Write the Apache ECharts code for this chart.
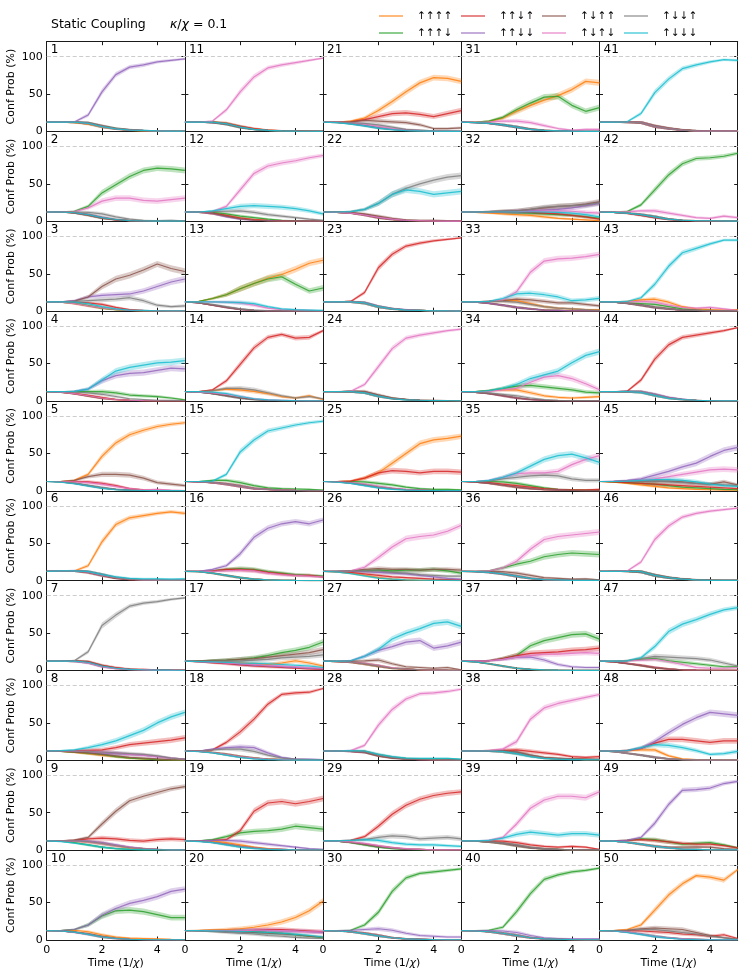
<!DOCTYPE html>
<html><head><meta charset="utf-8">
<script src="https://cdn.jsdelivr.net/npm/echarts@6/dist/echarts.min.js"></script>
<style>html,body{margin:0;padding:0;background:#fff}#c{width:747px;height:978px}</style>
</head><body><div id="c"></div>
<script>
// ---------------- data ----------------
const times = [0,0.5,1,1.5,2,2.5,3,3.5,4,4.5,5];
const stateNames = ['↑↑↑↑','↑↑↑↓','↑↑↓↑','↑↑↓↓','↑↓↑↑','↑↓↑↓','↑↓↓↑','↑↓↓↓'];
const stateColors = ['#ff7f0e','#2ca02c','#d62728','#9467bd','#8c564b','#e377c2','#7f7f7f','#17becf'];
const xTicks = [0,2,4];
const yTicks = [0,50,100];
// each panel: rows in stateNames order, values (%) at `times`
const panel1=[[12.5,12.5,12,10,6,3.5,1.5,1,0.5,0.3,0.2],[12.5,12.5,12.5,11,7,4,2,1,0.6,0.4,0.3],[12.5,12.5,12.5,11,7,3.5,2,1.2,0.8,0.6,0.5],[12.5,12.5,12.8,22,53,76,86,89,93,95,97],[12.5,12.5,12.5,11.5,7.5,4,2.5,1.5,1,0.6,0.4],[12.5,12.5,12.5,11,6.5,3.5,2,1.2,0.8,0.5,0.4],[12.5,12.5,12.5,11.5,7,4,2.5,1.5,1,0.6,0.4],[12.5,12.5,12.5,11,6.5,3.5,2,1.5,1,0.6,0.5]];
const panel2=[[12.5,12.5,11.5,9,5,2.5,1,0.5,0.3,0.2,0.2],[12.5,12.5,13.5,20,38,49,60,68,71,70,68],[12.5,12.5,11.5,9,5,2,1,0.5,0.3,0.2,0.2],[12.5,12.5,11.5,9,5.5,2.5,1,0.5,0.3,0.2,0.2],[12.5,12.5,11,8,4,2,1,0.5,0.3,0.2,0.1],[12.5,12.5,13,18,27,31,31,28,27,29,31],[12.5,12.5,12.5,12,10,6,3,1.5,1,1.5,0.8],[12.5,12.5,11.5,9,5,2.5,1,0.5,0.3,0.2,0.2]];
const panel3=[[12.5,12,10,7,4,2,1,0.5,0.3,0.2,0.2],[12.5,12,10.5,7.5,4,2,1,0.5,0.3,0.2,0.2],[12.5,12.5,12,11,9,5,2,1,0.5,0.3,0.3],[12.5,12.5,14,19,21,22,23,27,33,39,43],[12.5,12.5,13.5,19,33,43,48,55,63,57,53],[12.5,12,10,7,4.5,2.5,1,0.5,0.3,0.2,0.2],[12.5,12.5,13,14,15,16,18,14,8,6,7],[12.5,12.5,12,10,6,3,1.5,1,0.5,0.3,0.3]];
const panel4=[[12.5,12,10,7,4,2,1,0.5,0.3,0.2,0.2],[12.5,12.5,12.5,12.5,12.5,11,8,7,6,4,1.5],[12.5,12,10,7.5,4.5,2,1,0.5,0.3,0.2,0.2],[12.5,12.5,13,16,27,34,37,38,41,44,43],[12.5,11.5,9.5,6.5,3.5,2,1,0.5,0.3,0.2,0.2],[12.5,12,10,7,4,2,1,0.5,0.3,0.2,0.2],[12.5,12.5,12,11,9,6,3,2,1,0.8,0.5],[12.5,12.5,13,16,28,40,45,48,51,52,54]];
const panel5=[[12.5,12.5,14,22,46,64,75,81,86,89,91],[12.5,12,10,7,4,2,1,0.5,0.3,0.2,0.2],[12.5,12.5,12.5,12,10,7,3,1.5,1,0.5,0.5],[12.5,12,10,7,4,2,1,0.5,0.3,0.2,0.2],[12.5,12.5,14,19,22,22,21,17,11,9,7],[12.5,12.5,12,11,9,6,3,1.5,2,1,0.5],[12.5,12,10.5,7.5,4,2,1,0.5,0.3,0.2,0.2],[12.5,11.5,9.5,6.5,3.5,1.5,0.8,0.5,0.3,0.2,0.2]];
const panel6=[[12.5,12.5,13,20,52,75,84,87,90,92,90],[12.5,13,13,12,8,4,2,1,0.8,0.6,0.5],[12.5,13,13,11,7,3.5,1.5,1,0.6,0.4,0.3],[12.5,13,13.5,12,8,4,2,1,0.8,0.6,0.5],[12.5,13,13,11,7,3,1.5,1,0.6,0.4,0.3],[12.5,13,13,11.5,7.5,4,2,1,0.7,0.5,0.4],[12.5,13,13,12,8,4,2,1,0.7,0.5,0.4],[12.5,13,13,12,8,5,3,2.5,2.5,2,2.5]];
const panel7=[[12.5,12.5,12.5,11,6,3,1.5,1,0.6,0.4,0.3],[12.5,12.5,12.5,11,6,3,1.5,1,0.6,0.4,0.3],[12.5,12.5,13,12,7,4,2,1.5,1,0.6,0.5],[12.5,12.5,12.5,10.5,5.5,3,1.5,1,0.6,0.4,0.3],[12.5,12.5,12.5,11,6,3,1.5,1,0.6,0.4,0.3],[12.5,12.5,12,10,5,2.5,1.2,0.8,0.5,0.3,0.3],[12.5,12.5,13,25,60,74,86,90,92,95,97],[12.5,12.5,12.5,11,6,3,1.5,1,0.6,0.4,0.3]];
const panel8=[[12.5,12,10.5,9,7,5,3,2,1,0.5,0.3],[12.5,12,11,9.5,8,5,3,2,1,0.5,0.3],[12.5,12.5,13,13.5,14,17,21,23,25,27,30],[12.5,12.5,12,11.5,10,9,8,7,5,3,1.5],[12.5,12,11,10,8,6,4,3,2,1,0.5],[12.5,12.5,12.5,12,11,10,8,7,5,3,1.5],[12.5,12.5,12.5,12,11,10,9,8,6,3,1.5],[12.5,13,14,17,21,26,33,40,50,58,64]];
const panel9=[[12.5,12.5,12,11,9,6,3,2,1,0.5,0.3],[12.5,12,10,7,4,2,1,0.5,0.3,0.2,0.2],[12.5,12.5,13,15,16,15,13,12,14,15,14],[12.5,12.5,12.5,12,10,7,4,2,1,0.5,0.3],[12.5,12.5,13.5,17,35,52,66,72,77,82,85],[12.5,12.5,12,11,9,6,4,2,1,0.5,0.3],[12.5,12.5,12.5,11.5,9,6,3.5,2,1,0.5,0.3],[12.5,11.5,9.5,7,4,2,1,0.5,0.3,0.2,0.2]];
const panel10=[[12.5,12.5,13,11,7,4,2.5,2,1.5,0.8,0.2],[12.5,12.5,14,20,32,39,40,38,34,30,30],[12.5,12,10.5,8,4,2,1,0.5,0.3,0.2,0.2],[12.5,12.5,14,20,33,42,49,53,58,65,68],[12.5,12,10.5,8,4.5,2,1,0.5,0.3,0.2,0.2],[12.5,12,10,7.5,4,2,1,0.5,0.3,0.2,0.2],[12.5,12,10.5,8,4.5,2.5,1,0.5,0.3,0.2,0.2],[12.5,12,10.5,7.5,4,2,1,0.5,0.3,0.2,0.2]];
const panel11=[[12.5,12.5,13,11,6.5,3.5,2,1,0.6,0.4,0.3],[12.5,12.5,12.5,10,6,3,1.5,1,0.6,0.4,0.3],[12.5,12.5,12.5,11,7,4,2,1.2,0.8,0.6,0.5],[12.5,12.5,12,10,6,3,1.5,1,0.6,0.4,0.3],[12.5,12.5,12,10,5.5,3,1.5,1,0.6,0.4,0.3],[12.5,12.5,14,29,53,73,85,89,92,95,98],[12.5,12.5,12,10,6,3,1.5,1,0.6,0.4,0.3],[12.5,12.5,12.5,10.5,6,3,1.5,1,0.6,0.4,0.3]];
const panel12=[[12.5,12,10,7,4,2,1,0.5,0.3,0.2,0.2],[12.5,12.5,12,10,7,5,3,1.5,1,0.5,0.5],[12.5,12.5,11,8,4.5,2.5,1.5,1,0.5,0.3,0.2],[12.5,12,10,6,3,1.5,1,0.5,0.3,0.2,0.2],[12.5,12.5,11,7,3.5,1.5,0.8,0.5,0.3,0.2,0.2],[12.5,12.5,13,20,42,64,74,78,81,85,88],[12.5,12.5,13,13.5,14,12,9,7,5,3,1.5],[12.5,12.5,14,17,20,21,20,19,17,14,10]];
const panel13=[[12.5,13,17,22,30,37,44,49,56,64,68],[12.5,13,17,22,30,37,43,46,36,27,31],[12.5,11,8,5,2.5,1,0.5,0.3,0.2,0.1,0.1],[12.5,11,8,5,2.5,1,0.5,0.3,0.2,0.1,0.1],[12.5,11,8,5,2.5,1,0.5,0.3,0.2,0.1,0.1],[12.5,12.5,12.5,12,11,8,4,2,1.5,1,0.5],[12.5,11.5,9,6,3,1.5,0.8,0.5,0.3,0.2,0.1],[12.5,12.5,12.5,12,11.5,10,6,3,2,1.5,1]];
const panel14=[[12.5,12.5,14,16,15,13,10,6,4,7,2],[12.5,12,10,7,4,2,1,0.5,0.3,0.2,0.2],[12.5,12.5,15,27,49,71,85,89,84,85,94],[12.5,12,10,7,4,2,1,0.5,0.3,0.2,0.2],[12.5,12,10,7,4,2,1,0.5,0.3,0.2,0.2],[12.5,12,11,9,6,3,1.5,1,0.5,0.3,0.2],[12.5,12.5,14,17,17,15,11,7,4,6,3],[12.5,12.5,12,10,6,3,1.5,1,0.5,0.3,0.3]];
const panel15=[[12.5,12,11,9,6,3,2,1,0.6,0.4,0.3],[12.5,12.5,14,14,11,7,4,3,2.5,2,1],[12.5,12,11,9,6,3,2,1,0.6,0.4,0.3],[12.5,12,11,9,6,3,2,1,0.6,0.4,0.3],[12.5,12,11,9.5,6.5,3.5,2,1,0.6,0.4,0.3],[12.5,12,11,9,6,3,2,1,0.6,0.4,0.3],[12.5,12,11,9,6,3,2,1,0.6,0.4,0.3],[12.5,12.5,13,22,52,68,80,84,88,91,93]];
const panel16=[[12.5,12,10,7,4,2,1,0.5,0.3,0.2,0.2],[12.5,12.5,13,15,16,15,12,10,8,7,6],[12.5,12.5,13,15,15,14,11,9,7,7,5],[12.5,12.5,15,20,36,58,70,76,79,76,81],[12.5,12,10,7,4,2,1,0.5,0.3,0.2,0.2],[12.5,12.5,12.5,13,14,13,10,8,7,6,5],[12.5,12,10,7,4,2,1,0.5,0.3,0.2,0.2],[12.5,12,10,7,4,2,1,0.5,0.3,0.2,0.2]];
const panel17=[[12.5,12,11.5,11,10,9,8,10,13,10,6],[12.5,13,13.5,14,15,17,20,24,27,31,38],[12.5,11.5,10,9,7.5,6,5,4,3,2,1.5],[12.5,12,11,10,8.5,7,6,5,4,3,2],[12.5,13,13.5,14,15,16,18,20,22,24,28],[12.5,12,11,10,9,8,7,6,5,4,3],[12.5,12.5,12.5,12.5,13,14,15,17,18,19,21],[12.5,12,11.5,11,10,9.5,9,8,7,6,4]];
const panel18=[[12.5,12,10.5,8,5,3,1.5,1,0.5,0.3,0.3],[12.5,12,10.5,8,5,3,1.5,1,0.5,0.3,0.3],[12.5,12.5,14,24,38,55,75,88,90,91,96],[12.5,12.5,15,17,18,17,10,4,1.5,1.5,1],[12.5,12,10.5,8,5,3,1.5,1,0.5,0.3,0.3],[12.5,12,10.5,8,5,3,1.5,1,0.5,0.3,0.3],[12.5,12.5,14,15,15,12,7,3,1.5,1,0.5],[12.5,11.5,10,7,4,2,1,0.5,0.3,0.2,0.2]];
const panel19=[[12.5,12.5,12,10,7,4,2,1,0.5,0.3,0.3],[12.5,12.5,14,18,23,25,26,28,32,30,28],[12.5,12.5,13,14,26,52,63,65,62,65,69],[12.5,12.5,13,13,12,10,8,6,4,2,1],[12.5,12,10.5,8,5,3,1.5,1,0.5,0.3,0.3],[12.5,12,10.5,8,5,3,1.5,1,0.5,0.3,0.3],[12.5,12,10.5,8,5,3,1.5,1,0.5,0.3,0.3],[12.5,11.5,10,7,4,2,1,0.5,0.3,0.2,0.2]];
const panel20=[[12.5,13,13.5,14,15,17,20,24,30,39,52],[12.5,12.5,12.3,12,11.5,11,10,9,7,5,3],[12.5,12.5,12.5,12.5,12.5,13,14,14,13,12,11],[12.5,12.5,12.5,12.5,12.5,13,13,12,12,11,10],[12.5,12.5,12,11.5,11,10,9,8,7,5,4],[12.5,12.5,12.5,12.5,12.5,13,13,12.5,12,11,11],[12.5,12,11,10,9,8,6,5,3.5,2.5,2],[12.5,12.5,12.3,12,11.5,11,10,9,7.5,6,4]];
const panel21=[[12.5,12.5,14,18,28,40,53,65,72,71,67],[12.5,12,10.5,8,5,3,1.5,1,0.5,0.3,0.3],[12.5,12.5,13,16,20,24,25,23,20,24,28],[12.5,12,10.5,8,5,3,1.5,1,0.5,0.3,0.3],[12.5,12.5,13,15,14,13,12,9,4,4,5],[12.5,12.5,12,10,7,4,2.5,1.5,1,0.5,0.5],[12.5,12.5,12,11,9,6,3,2,1,0.8,0.5],[12.5,12,10,7.5,4.5,2.5,1.2,0.8,0.5,0.3,0.3]];
const panel22=[[12.5,12,11,8.5,5,2.5,1.2,0.8,0.5,0.3,0.3],[12.5,12,11,8.5,5,2.5,1.2,0.8,0.5,0.3,0.3],[12.5,12,11,8.5,5,2.5,1.2,0.8,0.5,0.3,0.3],[12.5,12,11,8.5,5,2.5,1.2,0.8,0.5,0.3,0.3],[12.5,12.5,12,10,7,4,2,1.5,1.5,1,0.5],[12.5,12,11,8.5,5.5,3,1.5,1,0.5,0.3,0.3],[12.5,12.5,13,16,24,36,44,50,55,59,61],[12.5,12.5,13,16,24,36,42,40,36,38,40]];
const panel23=[[12.5,12.5,12.5,11,6,3,1.5,1,0.5,0.3,0.2],[12.5,12.5,12.5,11,6,3,1.5,1,0.5,0.3,0.2],[12.5,12.5,13,25,58,76,87,91,94,96,98],[12.5,12.5,12.5,11.5,6.5,3.5,2,1,0.6,0.4,0.3],[12.5,12.5,12.5,11,6,3,1.5,1,0.5,0.3,0.2],[12.5,12.5,12.5,11,6,3,1.5,1,0.5,0.3,0.2],[12.5,12.5,12.5,11,6,3,1.5,1,0.5,0.3,0.2],[12.5,12.5,12.5,11,6,3,1.5,1,0.5,0.3,0.2]];
const panel24=[[12.5,12.5,12.5,11.5,7,3.5,2,1,0.6,0.4,0.3],[12.5,12.5,12.5,11.5,7,3.5,2,1,0.6,0.4,0.3],[12.5,12.5,12.5,11.5,7,3.5,2,1,0.6,0.4,0.3],[12.5,12.5,12.5,11.5,7,3.5,2,1,0.6,0.4,0.3],[12.5,12.5,13,13,8,4,2,1,0.8,0.6,0.5],[12.5,12.5,13,22,46,70,84,88,91,94,96],[12.5,12.5,12.5,11.5,7,3.5,2,1,0.6,0.4,0.3],[12.5,12.5,12.5,11,6.5,3,1.5,1,0.6,0.4,0.3]];
const panel25=[[12.5,12.5,13,17,24,37,50,63,68,70,73],[12.5,12.5,12.5,12,10,8,5,3,2,2,1.5],[12.5,12.5,13,17,24,27,26,24,26,26,25],[12.5,12,10.5,8,5,3,1.5,1,0.5,0.3,0.3],[12.5,12,10.5,8,5,3,1.5,1,0.5,0.3,0.3],[12.5,12,11,9,6,3.5,2,1,0.5,0.3,0.3],[12.5,12,10.5,8,5,3,1.5,1,0.5,0.3,0.3],[12.5,11.5,10,7,4,2,1,0.5,0.3,0.2,0.2]];
const panel26=[[12.5,11.5,10,7,4,2,1,0.6,0.4,0.3,0.2],[12.5,12.5,13,13,14,13,14,14,15,13,10],[12.5,12,11,9,7,5,4,3,2,1.5,1],[12.5,12.5,12.5,12,11,10,9,7,5,3,2],[12.5,12.5,13,15,16,15,15,14,15,15,14],[12.5,12.5,13,18,31,45,56,59,61,66,74],[12.5,12.5,13,13,13,11,10,8,7,6,6],[12.5,11.5,9.5,6.5,3.5,2,1,0.6,0.4,0.3,0.2]];
const panel27=[[12.5,12,11,9,6,3,2,1,0.6,0.4,0.3],[12.5,12,11,9,6,3,2,1,0.6,0.4,0.3],[12.5,12,11,9,6,3,2,1,0.6,0.4,0.3],[12.5,12.5,13,19,27,32,38,40,30,33,38],[12.5,12.5,12.5,13,14,9,5,4,3,4,1],[12.5,12,11,9.5,6.5,3.5,2,1,0.6,0.4,0.3],[12.5,12,11,9,6,3,2,1,0.6,0.4,0.3],[12.5,12.5,13,19,28,42,50,56,63,65,59]];
const panel28=[[12.5,12.5,12.5,11.5,7,4,2,1.5,1,0.5,0.3],[12.5,12.5,12.5,11.5,7,4,2.5,2,2,2,1],[12.5,12.5,12,11,6.5,3.5,2,1,0.6,0.4,0.3],[12.5,12.5,12,11,6.5,3.5,2,1,0.6,0.4,0.3],[12.5,12.5,12,11,6,3,1.5,1,0.6,0.4,0.3],[12.5,12.5,13,20,47,68,82,89,90,92,95],[12.5,12.5,12.5,11.5,7,4,2,1.5,1,0.5,0.3],[12.5,12.5,13,12.5,8,5,3,2.5,2.5,2.5,1.5]];
const panel29=[[12.5,12,10.5,8,5,3,1.5,1,0.5,0.3,0.3],[12.5,12,10,7,4,2,1,0.5,0.3,0.2,0.2],[12.5,12.5,13,18,32,48,60,68,73,76,78],[12.5,12,10.5,8,5,3,1.5,1,0.5,0.3,0.3],[12.5,12,10.5,8,5,3,1.5,1,0.5,0.3,0.3],[12.5,12,11,9,6,3.5,2,1,0.5,0.3,0.3],[12.5,12.5,13,14,17,19,18,15,16,17,15],[12.5,12.5,13,14,13,10,8,7,7,6,5]];
const panel30=[[12.5,12,11,9,6,3,1.5,1,0.5,0.3,0.3],[12.5,12.5,13,20,37,65,83,89,91,93,95],[12.5,12,11,9,6,3,1.5,1,0.5,0.3,0.3],[12.5,12.5,13,14,15,13,9,6,5,4,4],[12.5,12,11,9,6,3,1.5,1,0.5,0.3,0.3],[12.5,12,11,9,6,3,1.5,1,0.5,0.3,0.3],[12.5,12,11,9,6,3,1.5,1,0.5,0.3,0.3],[12.5,12,11,8.5,5.5,3,1.5,1,0.5,0.3,0.3]];
const panel31=[[12.5,12.5,13.5,18,27,35,42,48,56,67,65],[12.5,12.5,14,19,29,38,46,47,35,27,32],[12.5,12,11,9,6,3,1.5,1,0.5,0.3,0.3],[12.5,12,11,9,6,3,1.5,1,0.5,0.3,0.3],[12.5,12,11,9,6,3.5,2,1,0.5,0.3,0.3],[12.5,12.5,13,14,14,12,8,4,2,3,3],[12.5,12,11,9,6,3,1.5,1,0.5,0.3,0.3],[12.5,12,11,9,6,3,1.5,1,0.5,0.3,0.3]];
const panel32=[[12.5,12,11,10,9,8,6,4,3,2,1],[12.5,12.5,12.5,12,11.5,11,10,9,8,6,4],[12.5,12.5,12.5,12.5,12.5,12,11,10,8,6,3],[12.5,12.5,12.5,13,13,14,15,16,18,21,24],[12.5,12.5,13,13.5,14,16,18,20,21,23,26],[12.5,12.5,12.5,12.5,13,13.5,14,14,13.5,12,11],[12.5,12.5,13,13.5,14,16,19,20,21,22,25],[12.5,12.5,12.5,12.5,12.5,12.5,12.5,12,11,9,6]];
const panel33=[[12.5,12.5,13,14,14,10,6,4,3,2,2],[12.5,12,10.5,8,5,3,1.5,1,0.5,0.3,0.3],[12.5,12,10.5,8,5,3,1.5,1,0.5,0.3,0.3],[12.5,12,10.5,8,5,3,1.5,1,0.5,0.3,0.3],[12.5,12.5,13,14,16,15,13,11,11,9,7],[12.5,12.5,13,15,26,52,67,70,71,73,76],[12.5,12.5,13,13,12,9,6,4,3,2,1],[12.5,12.5,13,17,23,24,22,19,14,15,17]];
const panel34=[[12.5,12.5,14,15,15,11,7,5,4,5,6],[12.5,12.5,14,17,20,21,19,17,15,12,11],[12.5,11.5,10,7,4,2,1,0.5,0.3,0.2,0.2],[12.5,11.5,10,7,4,2,1,0.5,0.3,0.2,0.2],[12.5,11.5,10,7,4,2,1,0.5,0.3,0.2,0.2],[12.5,12.5,13,15,17,25,32,34,30,23,15],[12.5,12,11,9,7,4,2,1,0.5,0.5,0.3],[12.5,12.5,14,17,22,30,35,40,51,61,66]];
const panel35=[[12.5,11.5,10,7.5,5,3,1.5,1,0.5,0.3,0.3],[12.5,12.5,12.5,12,10,7,4,2,1.5,1,1],[12.5,12,11,9,7,5,3,2,1.5,1.5,2],[12.5,11.5,10,7.5,5,3,1.5,1,0.5,0.3,0.3],[12.5,11.5,10,7.5,5,3,1.5,1,0.5,0.3,0.3],[12.5,12.5,14,18,23,24,24,26,35,42,47],[12.5,12.5,13,16,18,20,21,20,16,14,14],[12.5,12.5,14,18,24,33,42,47,49,44,38]];
const panel36=[[12.5,12,11,9,6,3,1.5,1,0.5,0.3,0.3],[12.5,12.5,13,17,22,26,32,35,37,36,35],[12.5,12,11,9,6,3,1.5,1,0.5,0.3,0.3],[12.5,12,11,9,6,3,1.5,1,0.5,0.3,0.3],[12.5,12.5,12.5,12,10,7,4,3,2,2.5,1],[12.5,12.5,13,17,26,42,55,59,61,63,65],[12.5,12,11,9,6,3,1.5,1,0.5,0.3,0.3],[12.5,12,11,9,6,3,1.5,1,0.5,0.3,0.3]];
const panel37=[[12.5,11.5,9,6,3,1.5,0.8,0.5,0.3,0.2,0.2],[12.5,12.5,13,16,20,33,40,44,48,49,42],[12.5,12.5,13,16,20,23,24,25,27,28,30],[12.5,12.5,13,15,18,18,14,8,5,4,4],[12.5,11.5,9,6,3,1.5,0.8,0.5,0.3,0.2,0.2],[12.5,12.5,13,15,18,20,22,22,23,24,23],[12.5,11.5,9,6,3,1.5,0.8,0.5,0.3,0.2,0.2],[12.5,11.5,9,6,3,1.5,0.8,0.5,0.3,0.2,0.2]];
const panel38=[[12.5,12.5,12.5,12,10,6,3,2,1.5,1,0.8],[12.5,12.5,12.5,12,10,6,3,2,1.5,1,0.8],[12.5,12.5,13,13.5,14,12,10,8,5,4,5],[12.5,12.5,12.5,12,10,6,3,2,1.5,1,0.8],[12.5,12.5,12.5,12.5,11,7,4,3,2,2,1.5],[12.5,12.5,13,15,25,55,70,76,80,84,88],[12.5,12.5,12.5,12,10,6,3,2,1.5,1,0.8],[12.5,12.5,12.5,12,9,5,2.5,1.5,1,1,0.8]];
const panel39=[[12.5,12,11,9,6,3,1.5,1,0.5,0.3,0.3],[12.5,12,11,9,6,3,1.5,1,0.5,0.3,0.3],[12.5,12.5,12.5,12,10,7,5,4,5,4,1],[12.5,12,11,9,6,3,1.5,1,0.5,0.3,0.3],[12.5,12,11,9.5,6.5,3.5,2,1,0.5,0.3,0.3],[12.5,12.5,13,17,35,56,67,72,72,70,78],[12.5,12,11,9.5,7,4,2,1,0.5,0.3,0.3],[12.5,12.5,13,16,21,24,22,20,22,22,20]];
const panel40=[[12.5,12,11,9,6,3,1.5,1,0.5,0.3,0.3],[12.5,12.5,13,17,38,62,81,87,91,93,96],[12.5,12,11,9,6,3,1.5,1,0.5,0.3,0.3],[12.5,12.5,12.5,12,10,6,3,2,1.5,1.5,1.5],[12.5,12,11,9,6,3,1.5,1,0.5,0.3,0.3],[12.5,12,11,9,6,3,1.5,1,0.5,0.3,0.3],[12.5,12,11,9,6,3,1.5,1,0.5,0.3,0.3],[12.5,12,11,9,6,3,1.5,1,0.5,0.3,0.3]];
const panel41=[[12.5,12.5,12.5,12,7,4,2,1,0.6,0.5,0.5],[12.5,12.5,12.5,12,7,4,2,1,0.6,0.5,0.5],[12.5,12.5,12.5,12,7,4,2,1,1,0.8,0.5],[12.5,12.5,12.5,12,7,4,2,1,0.6,0.5,0.8],[12.5,12.5,12.5,12,7.5,4.5,2.5,1.5,0.8,0.5,0.5],[12.5,12.5,12.5,12,7,4,2,1,0.6,0.5,0.5],[12.5,12.5,12.5,12,7,4,2,1,0.6,0.5,0.5],[12.5,12.5,13,24,52,70,84,89,93,96,95]];
const panel42=[[12.5,12,11,9,6,3,1.5,1,0.5,0.3,0.3],[12.5,12.5,13,22,42,62,77,84,85,87,91],[12.5,12,10.5,8,5,2.5,1,0.5,0.3,0.2,0.2],[12.5,12,11,9,6,3,1.5,1,0.5,0.3,0.3],[12.5,12,11,9,6,3,1.5,1,0.5,0.3,0.3],[12.5,12.5,13,14,14,11,8,5,4,7,5],[12.5,12,11,9,6,3,1.5,1,0.8,1,0.5],[12.5,12,11,9,6,3,1.5,1,0.8,0.5,0.3]];
const panel43=[[12.5,12.5,13,15,16,12,6,3,2,1.5,2],[12.5,12,11,10,9,6,3,1.5,1,0.5,0.5],[12.5,12,10.5,8,5,3,1.5,1,0.5,0.3,0.3],[12.5,12,10.5,8,5,3,1.5,1,0.5,0.3,0.3],[12.5,12,10.5,8,5,3,1.5,1,0.5,0.3,0.3],[12.5,12.5,12.5,13,12,8,5,4,5,3,1],[12.5,12,10.5,8,5,3,1.5,1,0.5,0.3,0.3],[12.5,12.5,13,18,36,60,78,84,90,95,95]];
const panel44=[[12.5,12.5,12.5,12,8,4,2,1,0.5,0.3,0.2],[12.5,12.5,12.5,12,8,4,2,1,0.5,0.3,0.2],[12.5,12.5,13,28,56,75,85,88,91,94,98],[12.5,12.5,13,12.5,9,5,2.5,1,0.5,0.3,0.2],[12.5,12.5,12.5,12,8,4,2,1,0.5,0.3,0.2],[12.5,12.5,12.5,12,8,4,2,1,0.5,0.3,0.2],[12.5,12.5,12.5,12,8,4,2,1,0.5,0.3,0.2],[12.5,12.5,12.5,11.5,7.5,3.5,2,1,0.5,0.3,0.2]];
const panel45=[[12.5,11.5,10,8,6,4,3,2,1.5,1,1],[12.5,12,11,10,9,7,5,4,3,2,1.5],[12.5,12,11,10,9,8,7,6,5,4,3],[12.5,13,14,16,21,26,32,37,46,54,58],[12.5,12.5,12.5,13,13,13,12,10,9,12,8],[12.5,12.5,13,14,16,19,22,25,28,29,28],[12.5,12.5,13,13,13,12,11,10,9,8,7],[12.5,12.5,13,14,15,15,14,12,9,7,6]];
const panel46=[[12.5,12.5,12.5,12,7,4,2,1,0.5,0.3,0.3],[12.5,12.5,12.5,12,7,4,2,1,0.5,0.3,0.3],[12.5,12.5,12.5,12,7,4,2,1,0.5,0.3,0.3],[12.5,12.5,12.5,12,7,4,2,1,0.5,0.3,0.3],[12.5,12.5,12.5,12,7.5,4.5,2.5,1.5,0.8,0.5,0.3],[12.5,12.5,13,25,55,73,85,90,93,95,97],[12.5,12.5,12.5,12,7,4,2,1,0.5,0.3,0.3],[12.5,12.5,12.5,12,7,4,2,1,0.5,0.3,0.3]];
const panel47=[[12.5,11.5,9.5,7,4,2,1,0.5,0.3,0.2,0.2],[12.5,12.5,13,15,16,13,11,9,7,5,5],[12.5,11.5,9.5,7,4,2,1,0.5,0.3,0.2,0.2],[12.5,11.5,9.5,7,4,2,1,0.5,0.3,0.2,0.2],[12.5,11.5,9,6.5,3.5,2,1,0.5,0.3,0.2,0.2],[12.5,12.5,13,14,15,12,8,4,3,3,4],[12.5,12.5,13,16,19,18,17,16,14,10,6],[12.5,12.5,13,17,32,52,62,68,75,81,84]];
const panel48=[[12.5,12.5,13,14,14,6,2,1,0.8,0.5,0.5],[12.5,11.5,9.5,7,4,2,1,0.5,0.3,0.2,0.2],[12.5,12.5,13,16,23,28,28,26,24,26,26],[12.5,12.5,13,16,25,37,48,57,64,62,60],[12.5,11.5,9.5,7,4,2,1,0.5,0.3,0.2,0.2],[12.5,11.5,9.5,7,4,2,1,0.5,0.3,0.2,0.2],[12.5,11.5,9.5,7,4,2,1,0.5,0.3,0.2,0.2],[12.5,12.5,13,17,21,20,17,13,8,9,12]];
const panel49=[[12.5,12,10.5,8,5,3,1.5,1,0.5,0.3,0.3],[12.5,12.5,13,15,14,11,8,9,10,7,3],[12.5,12.5,13,14,13,11,9,8,8,6,3],[12.5,12.5,13,17,36,61,80,81,83,89,92],[12.5,12,10.5,8,5.5,4,4,4.5,4,2,1],[12.5,12,10.5,8,5,3,1.5,1,0.5,0.3,0.3],[12.5,12,10.5,8,5,3,1.5,1,0.5,0.3,0.3],[12.5,12,10.5,8,5,3,1.5,1,0.5,0.3,0.3]];
const panel50=[[12.5,12.5,14,20,40,60,75,86,84,80,94],[12.5,12,10.5,8,5,3,1.5,1,0.5,0.3,0.3],[12.5,12.5,12.5,12,11,10,8,7,5,7,2],[12.5,12,10.5,8,5,3,1.5,1,0.5,0.3,0.3],[12.5,12.5,13,15,16,15,14,10,6,3,1],[12.5,12,10.5,8,5,3,1.5,1,0.5,0.3,0.3],[12.5,12.5,13,14,14,12,10,8,5,3,1],[12.5,12,10,7.5,4.5,2.5,1,0.5,0.3,0.2,0.2]];
const panels=[panel1,panel2,panel3,panel4,panel5,panel6,panel7,panel8,panel9,panel10,panel11,panel12,panel13,panel14,panel15,panel16,panel17,panel18,panel19,panel20,panel21,panel22,panel23,panel24,panel25,panel26,panel27,panel28,panel29,panel30,panel31,panel32,panel33,panel34,panel35,panel36,panel37,panel38,panel39,panel40,panel41,panel42,panel43,panel44,panel45,panel46,panel47,panel48,panel49,panel50];

// ---------------- layout ----------------
const FONT = 'DejaVu Sans';
const L0 = 46.7, PW = 138.2, T0 = 41.7, PH = 89.83;
const frameColor = '#1a1a1a';

const grids=[], xAxes=[], yAxes=[], series=[], graphics=[];
function bandHalf(p, t){ return 0.085*Math.sqrt(Math.max(p,0)*Math.max(100-p,0))*Math.min(1, t/2); }

panels.forEach((pd, i) => {
  const col = Math.floor(i/10), row = i%10;
  const left = L0 + col*PW, top = T0 + row*PH;
  grids.push({left:left, top:top, width:PW, height:PH, containLabel:false});
  const axLine = {show:true, onZero:false, lineStyle:{color:frameColor, width:1}};
  const tick = {show:true, inside:true, length:3.5, lineStyle:{color:frameColor, width:1}};
  xAxes.push({gridIndex:i, type:'value', min:0, max:5, interval:2, position:'bottom',
    axisLine:axLine, axisTick:tick, splitLine:{show:false},
    axisLabel:{show: row===9, margin:5, fontSize:11, color:'#000', fontFamily:FONT,
      formatter: v => xTicks.includes(v) ? String(v) : ''}});
  xAxes.push({gridIndex:i, type:'value', min:0, max:5, interval:2, position:'top',
    axisLine:axLine, axisTick:tick, splitLine:{show:false}, axisLabel:{show:false}});
  yAxes.push({gridIndex:i, type:'value', min:0, max:120, interval:50, position:'left',
    axisLine:axLine, axisTick:tick, splitLine:{show:false},
    axisLabel:{show: col===0, margin:4, fontSize:11, color:'#000', fontFamily:FONT,
      formatter: v => yTicks.includes(v) ? String(v) : ''}});
  yAxes.push({gridIndex:i, type:'value', min:0, max:120, interval:50, position:'right',
    axisLine:axLine, axisTick:tick, splitLine:{show:false}, axisLabel:{show:false}});

  // uncertainty bands
  series.push({
    type:'custom', name:'band', xAxisIndex:2*i, yAxisIndex:2*i, silent:true, clip:true, z:2,
    data: stateNames.map((_, s) => [2.5, 50, s]),
    encode:{x:0, y:1},
    renderItem: (params, api) => {
      const s = params.dataIndex, arr = pd[s];
      const up = [], lo = [];
      times.forEach((t, j) => {
        const e = bandHalf(arr[j], t);
        up.push(api.coord([t, Math.min(arr[j]+e, 120)]));
        lo.push(api.coord([t, Math.max(arr[j]-e, 0)]));
      });
      return {type:'polygon', shape:{points: up.concat(lo.reverse())},
        style:{fill: stateColors[s], opacity:0.3}};
    }
  });
  stateNames.forEach((nm, s) => {
    const ser = {
      type:'line', name:nm, xAxisIndex:2*i, yAxisIndex:2*i, silent:true, z:3,
      data: times.map((t, j) => [t, pd[s][j]]),
      showSymbol:false, symbol:'none', smooth:false,
      lineStyle:{width:1.2, color:stateColors[s], opacity:0.85},
      itemStyle:{color:stateColors[s]}
    };
    if (s === 0) {
      ser.markLine = {silent:true, symbol:['none','none'], label:{show:false},
        lineStyle:{type:[4,2.5], color:'#cccccc', width:1}, data:[{yAxis:100}], animation:false};
    }
    series.push(ser);
  });
  graphics.push({type:'text', x:left+4, y:top+8.5, silent:true,
    style:{text:String(i+1), fontSize:12, fontFamily:FONT, fill:'#000',
      textAlign:'left', align:'left', textVerticalAlign:'middle', verticalAlign:'middle'}});
  if (col === 0) {
    graphics.push({type:'text', x:11.5, y:top+PH/2, rotation:Math.PI/2, silent:true,
      style:{text:'Conf Prob (%)', fontSize:11, fontFamily:FONT, fill:'#000',
        textAlign:'center', align:'center', textVerticalAlign:'middle', verticalAlign:'middle'}});
  }
  if (row === 9) {
    graphics.push({type:'text', x:left+PW/2, y:963, silent:true,
      style:{text:'{a|Time (1/}{b|χ}{a|)}', fill:'#000', fontSize:11, fontFamily:FONT,
        rich:{a:{fontSize:11, fontFamily:FONT, fill:'#000', color:'#000'},
              b:{fontSize:11, fontFamily:FONT, fontStyle:'italic', fill:'#000', color:'#000'}},
        textAlign:'center', align:'center', textVerticalAlign:'middle', verticalAlign:'middle'}});
  }
});

graphics.push({type:'text', x:51, y:25, silent:true,
  style:{text:'Static Coupling', fontSize:12.5, fontFamily:FONT, fill:'#000',
    textVerticalAlign:'middle', verticalAlign:'middle'}});
graphics.push({type:'text', x:170, y:25, silent:true,
  style:{text:'{i|κ}{a|/}{i|χ}{a| = 0.1}', fontSize:12.5, fontFamily:FONT, fill:'#000',
    rich:{i:{fontSize:12.5, fontFamily:FONT, fontStyle:'italic', fill:'#000', color:'#000'},
          a:{fontSize:12.5, fontFamily:FONT, fill:'#000', color:'#000'}},
    textVerticalAlign:'middle', verticalAlign:'middle'}});

const legendLefts = [379, 461, 542, 624];
const legends = legendLefts.map((lx, c) => ({
  data:[stateNames[2*c], stateNames[2*c+1]], orient:'vertical', left:lx, top:9.5, padding:0,
  itemWidth:24, itemHeight:2, itemGap:4, icon:'rect', selectedMode:false,
  itemStyle:{opacity:0.55},
  textStyle:{fontSize:10.5, fontFamily:FONT, color:'#000', padding:[0,0,0,9], lineHeight:13}
}));

const chart = echarts.init(document.getElementById('c'), null, {renderer:'canvas'});
chart.setOption({
  animation:false, backgroundColor:'#ffffff',
  grid:grids, xAxis:xAxes, yAxis:yAxes, series:series, legend:legends, graphic:graphics
});
</script></body></html>
